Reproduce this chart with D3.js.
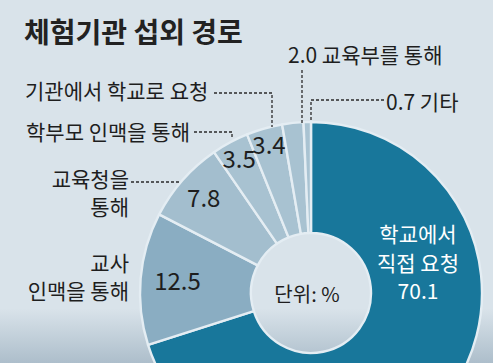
<!DOCTYPE html>
<html><head><meta charset="utf-8">
<script src="https://cdn.jsdelivr.net/npm/d3@7"></script>
<style>
html,body{margin:0;padding:0;background:#d9e3ea;}
svg text{font-family:"Noto Sans CJK KR","Noto Sans",sans-serif;}
</style></head>
<body>
<svg id="c" width="493" height="363"></svg>
<script>
// data
const categories = ["학교에서 직접 요청","교사 인맥을 통해","교육청을 통해","학부모 인맥을 통해","기관에서 학교로 요청","교육부를 통해","기타"];
const values = [70.1, 12.5, 7.8, 3.5, 3.4, 2.0, 0.7];
const valueLabels = ["70.1","12.5","7.8","3.5","3.4","2.0","0.7"];
const title = "체험기관 섭외 경로";
const unitLabel = "단위: %";

const W = 493, H = 363;
const svg = d3.select("#c");

// background + bottom shade
const defs = svg.append("defs");
const g1 = defs.append("linearGradient").attr("id","bg").attr("x1",0).attr("y1",0).attr("x2",0).attr("y2",1);
g1.append("stop").attr("offset","0%").attr("stop-color","#d9e3ea");
g1.append("stop").attr("offset","85%").attr("stop-color","#d9e3ea");
g1.append("stop").attr("offset","100%").attr("stop-color","#adbecb");
svg.append("rect").attr("width",W).attr("height",H).attr("fill","url(#bg)");

const cx = 311, cy = 293, R = 171, r = 60;
const colors = ["#18779b","#8aadc2","#a3bece","#a8c2d1","#a8c2d1","#a8c2d1","#a9c3d2"];

const pie = d3.pie().value(d => d).sort(null);
const arcs = pie(values);
const arc = d3.arc().innerRadius(r).outerRadius(R);

const g = svg.append("g").attr("transform",`translate(${cx},${cy})`);
g.selectAll("path").data(arcs).join("path")
  .attr("d", arc)
  .attr("fill", (d,i) => colors[i])
  .attr("stroke","#e4edf3").attr("stroke-width",2.4).attr("stroke-linejoin","round");

// slice value labels (small slices)
const labelR = [0, 134, 143, 152, 154];
arcs.forEach((d,i) => {
  if (i < 1 || i > 4) return;
  const a = (d.startAngle + d.endAngle)/2;
  const x = Math.sin(a)*labelR[i], y = -Math.cos(a)*labelR[i];
  g.append("text").attr("x",x).attr("y",y).attr("dy","0.36em")
   .attr("text-anchor","middle").attr("font-size",24).attr("fill","#1e1e1e")
   .text(valueLabels[i]);
});

// main slice label (white)
const mainLines = ["학교에서","직접 요청", valueLabels[0]];
const mainY = [242, 271, 299];
mainLines.forEach((t,k) => {
  svg.append("text").attr("x",418).attr("y",mainY[k]).attr("text-anchor","middle")
    .attr("font-size",21).attr("fill","#ffffff").text(t);
});

// unit
svg.append("text").attr("x",307).attr("y",302).attr("text-anchor","middle")
  .attr("font-size",20).attr("fill","#1e1e1e").text(unitLabel);

// title
svg.append("text").attr("x",24).attr("y",43).attr("font-size",28).attr("font-weight","bold")
  .attr("fill","#222").text(title);

// outside labels
const outside = [
  {lines:[valueLabels[5]+" 교육부를 통해"], x:288, y:[63], anchor:"start"},
  {lines:["기관에서 학교로 요청"], x:25, y:[99], anchor:"start"},
  {lines:[valueLabels[6]+" 기타"], x:386, y:[110], anchor:"start"},
  {lines:["학부모 인맥을 통해"], x:26, y:[140], anchor:"start"},
  {lines:["교육청을","통해"], x:129, y:[187,215], anchor:"end"},
  {lines:["교사","인맥을 통해"], x:129, y:[271,299], anchor:"end"}
];
outside.forEach(o => {
  o.lines.forEach((t,k) => {
    svg.append("text").attr("x",o.x).attr("y",o.y[k]).attr("text-anchor",o.anchor)
      .attr("font-size",21).attr("fill","#1e1e1e").text(t);
  });
});

// leader lines
const leaders = [
  [[302,70],[302,124]],
  [[214,93],[272,93],[272,127]],
  [[384,100],[311,100],[311,122]],
  [[194,132],[232,132],[232,138]],
  [[131,182],[180,182]]
];
const line = d3.line();
svg.selectAll("path.lead").data(leaders).join("path").attr("class","lead")
  .attr("d", line).attr("fill","none").attr("stroke","#2a2a2a")
  .attr("stroke-width",1.3).attr("stroke-dasharray","3,2");
</script>
</body></html>
